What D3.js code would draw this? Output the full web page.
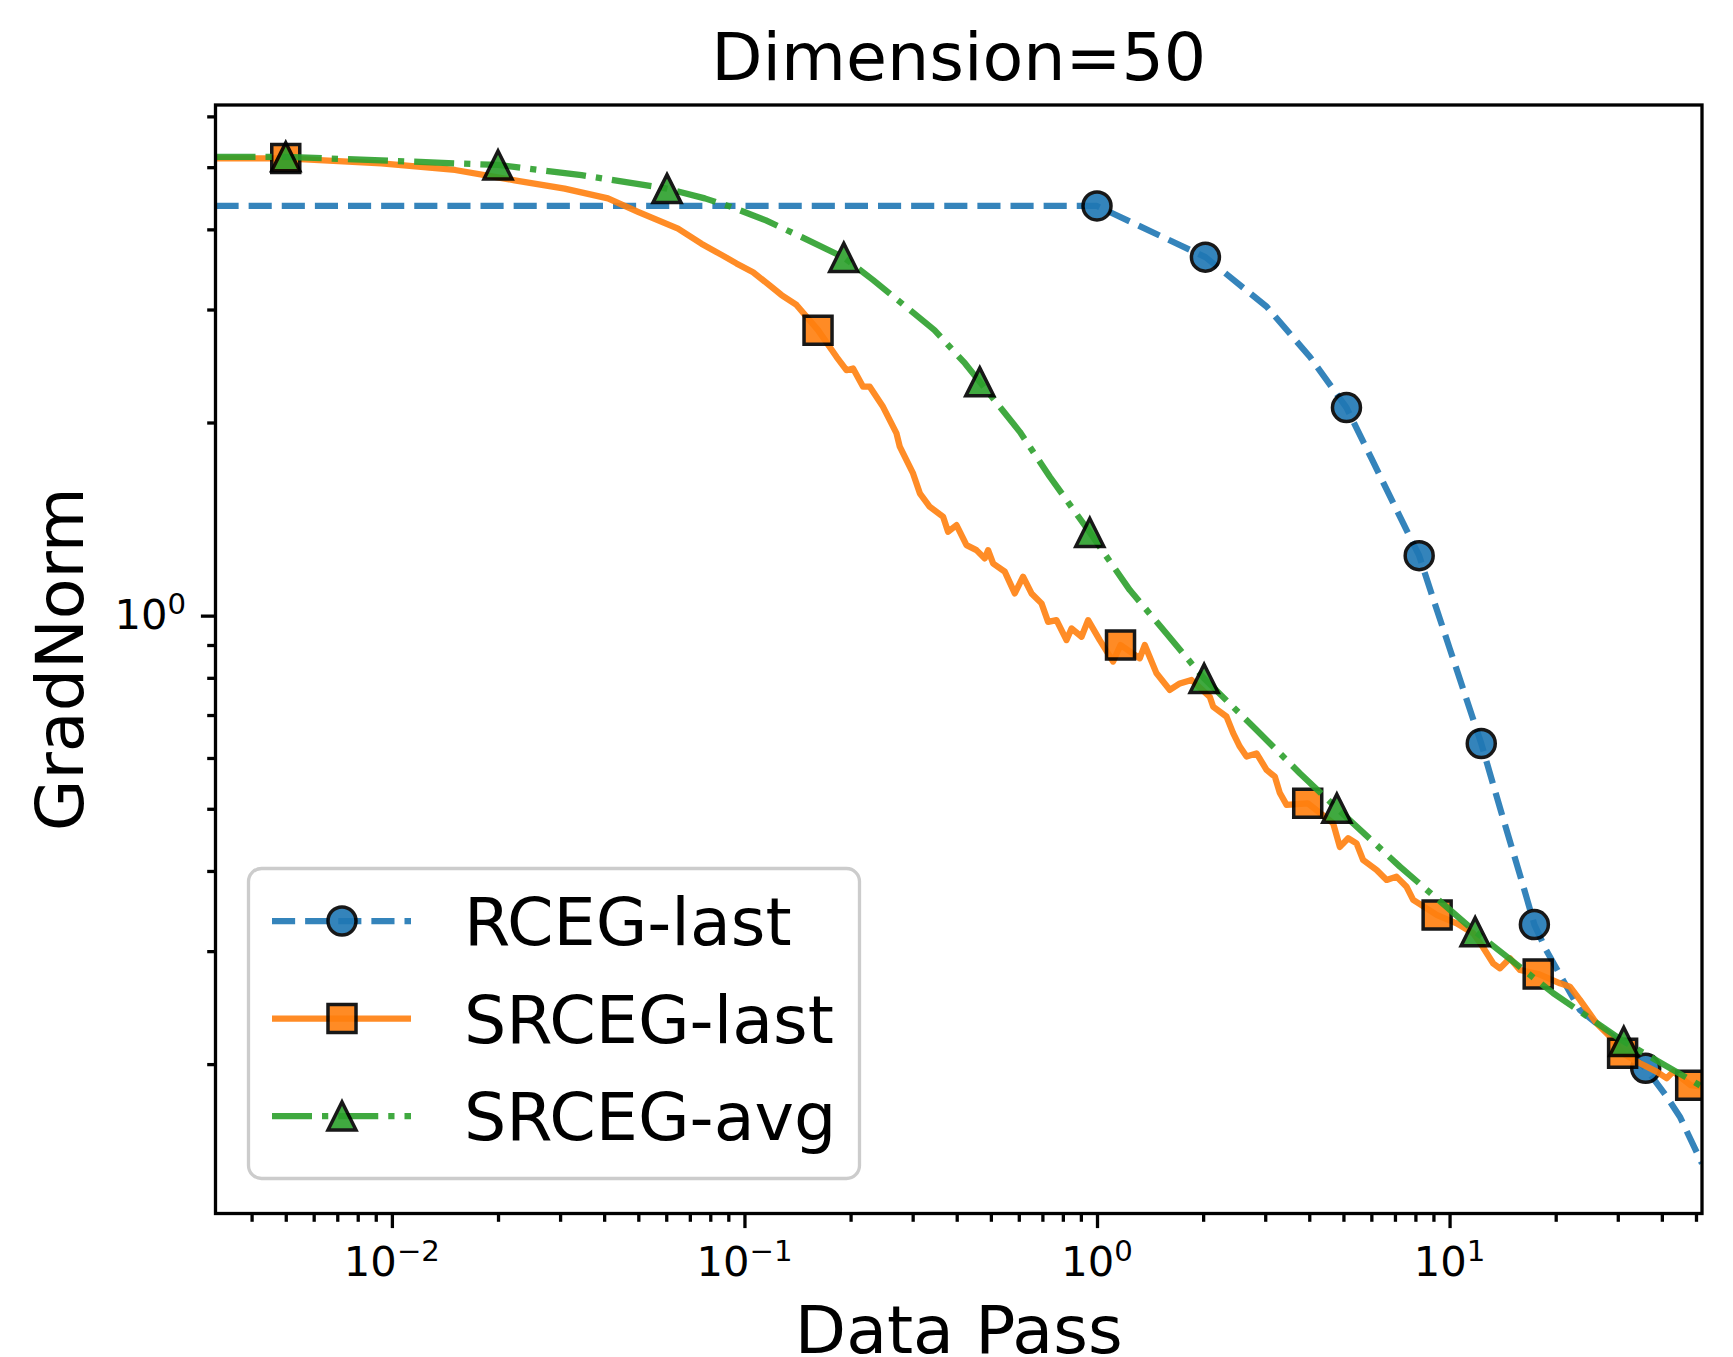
<!DOCTYPE html>
<html>
<head>
<meta charset="utf-8">
<script src="https://cdn.jsdelivr.net/npm/d3@7"></script>
<style>
  body { margin: 0; background: #fff; }
  text { font-family: "DejaVu Sans", sans-serif; fill: #000; }
</style>
</head>
<body>
<div id="chart"></div>
<script>
// values (x = data pass, y = grad norm)
var rcegLastLine = [[0.00316, 4.35], [1.0, 4.35], [2.03, 3.62], [3.03, 3.03], [4.02, 2.53], [5.1, 2.11],
  [6, 1.76], [7, 1.48], [8.2, 1.24], [9, 1.06], [10, 0.89], [11, 0.76], [12.3, 0.632], [14, 0.495],
  [16, 0.387], [17.4, 0.330], [18.8, 0.301], [23.4, 0.243], [29.1, 0.2205], [36, 0.197], [41.3, 0.178],
  [45, 0.1656], [52, 0.140]];
var rcegLastMarks = [[1.0, 4.35], [2.03, 3.62], [5.1, 2.11], [8.2, 1.24], [12.3, 0.632], [17.4, 0.330], [36, 0.197]];

var srcegLastLine = [[0.00316, 5.16], [0.005, 5.16], [0.00933, 5.07], [0.0151, 4.95], [0.0223, 4.77],
  [0.0309, 4.63], [0.041, 4.47], [0.0499, 4.26], [0.0648, 4.01], [0.0755, 3.80], [0.0861, 3.65],
  [0.0949, 3.54], [0.1058, 3.43], [0.118, 3.27], [0.1274, 3.16], [0.1405, 3.05], [0.1617, 2.786],
  [0.1824, 2.532], [0.1947, 2.413], [0.2033, 2.428], [0.217, 2.274], [0.2267, 2.274], [0.2472, 2.116],
  [0.270, 1.923], [0.2758, 1.834], [0.3008, 1.666], [0.3144, 1.551], [0.3355, 1.478], [0.366, 1.426],
  [0.378, 1.351], [0.3995, 1.384], [0.4264, 1.288], [0.455, 1.265], [0.4806, 1.228], [0.491, 1.265],
  [0.5073, 1.206], [0.5475, 1.171], [0.5845, 1.083], [0.617, 1.150], [0.652, 1.083], [0.696, 1.045],
  [0.7266, 0.978], [0.7676, 0.984], [0.8194, 0.916], [0.8467, 0.955], [0.904, 0.927], [0.9436, 0.984],
  [1.018, 0.916], [1.111, 0.848], [1.166, 0.900], [1.322, 0.858], [1.366, 0.900], [1.475, 0.813],
  [1.609, 0.766], [1.718, 0.784], [1.854, 0.794], [2.09, 0.747], [2.136, 0.721], [2.33, 0.696],
  [2.433, 0.656], [2.541, 0.625], [2.656, 0.603], [2.835, 0.610], [3.026, 0.575], [3.195, 0.561],
  [3.301, 0.529], [3.449, 0.507], [3.96, 0.510], [4.676, 0.4746], [4.884, 0.436], [5.157, 0.4498],
  [5.447, 0.4416], [5.687, 0.416], [6.21, 0.4015], [6.63, 0.3873], [7.07, 0.392], [7.55, 0.378],
  [7.885, 0.3605], [9.22, 0.3415], [10.47, 0.3315], [11.67, 0.3199], [12.4, 0.305], [13.3, 0.287],
  [13.9, 0.282], [14.83, 0.2924], [15.83, 0.2804], [17.84, 0.2764], [20.57, 0.2673], [21.94, 0.2641],
  [23.43, 0.2518], [26.12, 0.2316], [28.5, 0.2208], [30.96, 0.208], [34.67, 0.2006], [38.66, 0.1947],
  [41.27, 0.1901], [43.1, 0.1947], [48.3, 0.1854], [52, 0.1845]];
var srcegLastMarks = [[0.005, 5.16], [0.1617, 2.786], [1.166, 0.900], [3.96, 0.510], [9.22, 0.3415],
  [17.84, 0.2764], [30.96, 0.208], [48.3, 0.1854]];

var srcegAvgLine = [[0.00316, 5.19], [0.005, 5.19], [0.02, 5.04], [0.0345, 4.86], [0.0603, 4.63],
  [0.0772, 4.47], [0.0912, 4.34], [0.1151, 4.13], [0.1454, 3.89], [0.1913, 3.617], [0.2319, 3.334],
  [0.3028, 2.958], [0.3459, 2.786], [0.4225, 2.472], [0.465, 2.314], [0.604, 1.934], [0.7347, 1.646],
  [0.954, 1.348], [1.239, 1.096], [1.574, 0.938], [2.013, 0.798], [2.835, 0.6635], [3.76, 0.568],
  [4.79, 0.501], [7.23, 0.4063], [11.82, 0.3217], [19.67, 0.258], [31.2, 0.2169], [52, 0.1845]];
var srcegAvgMarks = [[0.005, 5.19], [0.02, 5.04], [0.0603, 4.63], [0.1913, 3.617], [0.465, 2.314],
  [0.954, 1.348], [2.013, 0.798], [4.79, 0.501], [11.82, 0.3217], [31.2, 0.2169]];

var seriesNames = ["RCEG-last", "SRCEG-last", "SRCEG-avg"];
var xTickValues = [0.01, 0.1, 1, 10];
var xTickExps = ["\u22122", "\u22121", "0", "1"];
var yTickValues = [1];
var yTickExps = ["0"];
var minorSteps = [2, 3, 4, 5, 6, 7, 8, 9];

// layout (plot box in page pixels)
var W = 1733, H = 1357;
var plotLeft = 215.5, plotRight = 1702, plotTop = 105, plotBottom = 1213.5;
var lw = 6.25;

var svg = d3.select("#chart").append("svg")
  .attr("width", W).attr("height", H);

var x = d3.scaleLog().domain([0.00316, 52]).range([plotLeft, plotRight]);
var y = d3.scaleLog().domain([0.117, 6.25]).range([plotBottom, plotTop]);

svg.append("clipPath").attr("id", "plotclip")
  .append("rect").attr("x", plotLeft).attr("y", plotTop)
  .attr("width", plotRight - plotLeft).attr("height", plotBottom - plotTop);

var plot = svg.append("g").attr("clip-path", "url(#plotclip)");

var line = d3.line().x(function (d) { return x(d[0]); }).y(function (d) { return y(d[1]); });

var series = [
  { line: rcegLastLine, marks: rcegLastMarks, color: "#1f77b4", dash: (3.7 * lw) + "," + (1.6 * lw), marker: "circle" },
  { line: srcegLastLine, marks: srcegLastMarks, color: "#ff7f0e", dash: null, marker: "square" },
  { line: srcegAvgLine, marks: srcegAvgMarks, color: "#2ca02c",
    dash: [6.4 * lw, 1.6 * lw, 1 * lw, 1.6 * lw].join(","), marker: "triangle" }
];

var ms = 28; // marker size in px
function markerPath(kind) {
  var h = ms / 2;
  if (kind === "circle") return d3.symbol().type(d3.symbolCircle).size(Math.PI * h * h)();
  if (kind === "square") return "M" + (-h) + "," + (-h) + "H" + h + "V" + h + "H" + (-h) + "Z";
  return "M0," + (-h) + "L" + h + "," + h + "L" + (-h) + "," + h + "Z";
}

series.forEach(function (s) {
  plot.append("path")
    .datum(s.line)
    .attr("d", line)
    .attr("fill", "none")
    .attr("stroke", s.color)
    .attr("stroke-width", lw)
    .attr("stroke-linejoin", "round")
    .attr("stroke-linecap", s.dash ? "butt" : "round")
    .attr("stroke-dasharray", s.dash)
    .attr("opacity", 0.9);

  plot.selectAll(null)
    .data(s.marks)
    .enter()
    .append("path")
    .attr("d", markerPath(s.marker))
    .attr("transform", function (d) { return "translate(" + x(d[0]) + "," + y(d[1]) + ")"; })
    .attr("fill", s.color)
    .attr("stroke", "#000")
    .attr("stroke-width", 3.5)
    .attr("opacity", 0.9);
});

// minor tick values for each decade in range
function minorTicks(scale) {
  var dom = scale.domain(), out = [];
  for (var e = Math.floor(Math.log10(dom[0])); e <= Math.ceil(Math.log10(dom[1])); e++) {
    minorSteps.forEach(function (m) {
      var v = m * Math.pow(10, e);
      if (v >= dom[0] && v <= dom[1]) out.push(v);
    });
  }
  return out;
}

function styleAxis(g) {
  g.select(".domain").remove();
  g.selectAll(".tick line").attr("stroke", "#000").attr("stroke-width", 3.3);
}

svg.append("g").attr("transform", "translate(0," + plotBottom + ")")
  .call(d3.axisBottom(x).tickValues(xTickValues).tickSize(14.6).tickFormat(""))
  .call(styleAxis);
svg.append("g").attr("transform", "translate(0," + plotBottom + ")")
  .call(d3.axisBottom(x).tickValues(minorTicks(x)).tickSize(8.3).tickFormat(""))
  .call(styleAxis);
svg.append("g").attr("transform", "translate(" + plotLeft + ",0)")
  .call(d3.axisLeft(y).tickValues(yTickValues).tickSize(14.6).tickFormat(""))
  .call(styleAxis);
svg.append("g").attr("transform", "translate(" + plotLeft + ",0)")
  .call(d3.axisLeft(y).tickValues(minorTicks(y)).tickSize(8.3).tickFormat(""))
  .call(styleAxis);

// tick labels as 10^n
xTickValues.forEach(function (v, i) {
  var t = svg.append("text")
    .attr("x", x(v)).attr("y", 1276)
    .attr("text-anchor", "middle")
    .style("font-size", "41.67px");
  t.append("tspan").text("10");
  t.append("tspan").attr("dy", -15.3).style("font-size", "29.2px").text(xTickExps[i]);
});
yTickValues.forEach(function (v, i) {
  var t = svg.append("text")
    .attr("x", 186).attr("y", y(v) + 13.2)
    .attr("text-anchor", "end")
    .style("font-size", "41.67px");
  t.append("tspan").text("10");
  t.append("tspan").attr("dy", -15.3).style("font-size", "29.2px").text(yTickExps[i]);
});

// spines
svg.append("rect")
  .attr("x", plotLeft).attr("y", plotTop)
  .attr("width", plotRight - plotLeft).attr("height", plotBottom - plotTop)
  .attr("fill", "none").attr("stroke", "#000").attr("stroke-width", 3.3);

// title and axis labels
var mid = (plotLeft + plotRight) / 2;
svg.append("text").attr("x", mid).attr("y", 80)
  .attr("text-anchor", "middle").style("font-size", "66.67px").text("Dimension=50");
svg.append("text").attr("x", mid).attr("y", 1353)
  .attr("text-anchor", "middle").style("font-size", "66.67px").text("Data Pass");
svg.append("text")
  .attr("transform", "translate(83," + ((plotTop + plotBottom) / 2) + ") rotate(-90)")
  .attr("text-anchor", "middle").style("font-size", "66.67px").text("GradNorm");

// legend
var legend = svg.append("g");
legend.append("rect")
  .attr("x", 248.5).attr("y", 868.5).attr("width", 611).attr("height", 310)
  .attr("rx", 13).attr("ry", 13)
  .attr("fill", "#fff").attr("fill-opacity", 0.8)
  .attr("stroke", "#cccccc").attr("stroke-width", 3.3);

var rowY = [921, 1018.5, 1116];
series.forEach(function (s, i) {
  var ry = rowY[i];
  legend.append("line")
    .attr("x1", 272).attr("x2", 411).attr("y1", ry).attr("y2", ry)
    .attr("stroke", s.color).attr("stroke-width", lw)
    .attr("stroke-dasharray", s.dash)
    .attr("opacity", 0.9);
  legend.append("path")
    .attr("d", markerPath(s.marker))
    .attr("transform", "translate(342," + ry + ")")
    .attr("fill", s.color).attr("stroke", "#000").attr("stroke-width", 3.5)
    .attr("opacity", 0.9);
  legend.append("text")
    .attr("x", 464).attr("y", ry + 24)
    .style("font-size", "66.67px")
    .text(seriesNames[i]);
});
</script>
</body>
</html>
